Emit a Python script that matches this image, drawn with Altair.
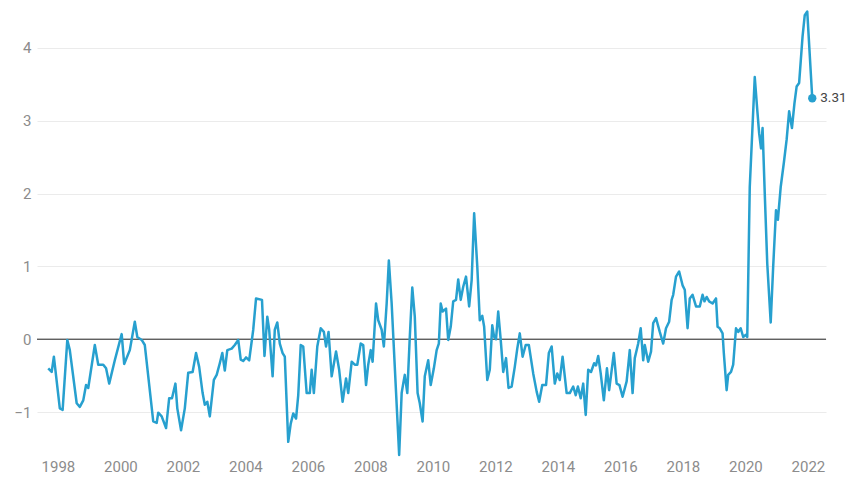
import altair as alt
import pandas as pd

# decimal year of each vertex
years = [
    1997.69, 1997.80, 1997.87, 1998.06, 1998.15, 1998.30, 1998.38, 1998.60, 1998.70, 1998.81,
    1998.90, 1998.97, 1999.18, 1999.29, 1999.45, 1999.54, 1999.64, 1999.82, 2000.04, 2000.12,
    2000.30, 2000.46, 2000.54, 2000.68, 2000.78, 2001.05, 2001.16, 2001.21, 2001.32, 2001.46,
    2001.56, 2001.65, 2001.76, 2001.82, 2001.94, 2002.06, 2002.17, 2002.31, 2002.42, 2002.52,
    2002.63, 2002.70, 2002.78, 2002.86, 2002.99, 2003.08, 2003.18, 2003.26, 2003.34, 2003.42,
    2003.56, 2003.66, 2003.77, 2003.85, 2003.93, 2004.02, 2004.12, 2004.25, 2004.34, 2004.53,
    2004.61, 2004.70, 2004.76, 2004.87, 2004.94, 2005.02, 2005.10, 2005.19, 2005.26, 2005.37,
    2005.45, 2005.53, 2005.62, 2005.69, 2005.77, 2005.85, 2005.96, 2006.06, 2006.12, 2006.19,
    2006.30, 2006.41, 2006.51, 2006.58, 2006.66, 2006.76, 2006.90, 2007.00, 2007.11, 2007.22,
    2007.29, 2007.40, 2007.50, 2007.58, 2007.69, 2007.77, 2007.86, 2007.93, 2008.01, 2008.07,
    2008.18, 2008.25, 2008.36, 2008.43, 2008.52, 2008.59, 2008.68, 2008.78, 2008.92, 2009.00,
    2009.05, 2009.10, 2009.18, 2009.26, 2009.34, 2009.42, 2009.51, 2009.58, 2009.67, 2009.74,
    2009.85, 2009.93, 2010.03, 2010.12, 2010.19, 2010.25, 2010.31, 2010.42, 2010.49, 2010.57,
    2010.65, 2010.74, 2010.81, 2010.89, 2010.97, 2011.06, 2011.16, 2011.24, 2011.32, 2011.42,
    2011.50, 2011.58, 2011.64, 2011.74, 2011.82, 2011.90, 2011.96, 2012.02, 2012.09, 2012.17,
    2012.25, 2012.34, 2012.42, 2012.52, 2012.62, 2012.70, 2012.78, 2012.87, 2012.97, 2013.07,
    2013.21, 2013.32, 2013.40, 2013.50, 2013.62, 2013.71, 2013.80, 2013.90, 2013.98, 2014.06,
    2014.15, 2014.28, 2014.38, 2014.49, 2014.57, 2014.64, 2014.73, 2014.81, 2014.89, 2014.97,
    2015.06, 2015.16, 2015.22, 2015.29, 2015.37, 2015.47, 2015.57, 2015.64, 2015.79, 2015.88,
    2015.97, 2016.07, 2016.20, 2016.30, 2016.39, 2016.46, 2016.57, 2016.65, 2016.73, 2016.78,
    2016.89, 2016.98, 2017.05, 2017.14, 2017.26, 2017.37, 2017.46, 2017.56, 2017.64, 2017.69,
    2017.78, 2017.88, 2017.99, 2018.06, 2018.15, 2018.22, 2018.31, 2018.42, 2018.54, 2018.63,
    2018.69, 2018.76, 2018.84, 2018.95, 2019.06, 2019.11, 2019.18, 2019.27, 2019.31, 2019.40,
    2019.45, 2019.54, 2019.61, 2019.70, 2019.77, 2019.85, 2019.93, 2020.01, 2020.06, 2020.14,
    2020.30, 2020.38, 2020.44, 2020.50, 2020.55, 2020.62, 2020.70, 2020.81, 2020.89, 2020.98,
    2021.04, 2021.13, 2021.23, 2021.32, 2021.40, 2021.49, 2021.57, 2021.64, 2021.72, 2021.83,
    2021.90, 2021.98, 2022.14,
]

values = [
    -0.40, -0.45, -0.24, -0.95, -0.97, -0.01, -0.15, -0.88, -0.93, -0.84,
    -0.63, -0.67, -0.08, -0.35, -0.35, -0.40, -0.61, -0.29, 0.07, -0.34,
    -0.15, 0.24, 0.03, -0.01, -0.08, -1.13, -1.15, -1.01, -1.06, -1.22,
    -0.81, -0.81, -0.61, -0.95, -1.25, -0.95, -0.46, -0.45, -0.19, -0.38,
    -0.74, -0.90, -0.86, -1.06, -0.56, -0.49, -0.33, -0.19, -0.43, -0.15,
    -0.13, -0.08, -0.01, -0.28, -0.30, -0.25, -0.29, 0.13, 0.56, 0.54,
    -0.23, 0.31, 0.13, -0.51, 0.13, 0.23, -0.06, -0.19, -0.24, -1.41,
    -1.16, -1.02, -1.09, -0.77, -0.08, -0.10, -0.74, -0.74, -0.42, -0.74,
    -0.10, 0.15, 0.10, -0.10, 0.10, -0.51, -0.17, -0.42, -0.86, -0.54,
    -0.74, -0.31, -0.35, -0.35, -0.06, -0.08, -0.63, -0.35, -0.15, -0.31,
    0.49, 0.26, 0.13, -0.10, 0.49, 1.08, 0.49, -0.38, -1.59, -0.74,
    -0.61, -0.49, -0.74, 0.03, 0.71, 0.31, -0.74, -0.88, -1.13, -0.51,
    -0.29, -0.63, -0.40, -0.15, -0.06, 0.49, 0.38, 0.42, -0.01, 0.17,
    0.52, 0.54, 0.82, 0.54, 0.72, 0.86, 0.45, 0.81, 1.73, 1.00,
    0.26, 0.32, 0.17, -0.56, -0.42, 0.19, 0.03, 0.00, 0.38, -0.01,
    -0.45, -0.26, -0.67, -0.65, -0.38, -0.13, 0.08, -0.24, -0.08, -0.08,
    -0.47, -0.72, -0.86, -0.63, -0.63, -0.19, -0.10, -0.61, -0.47, -0.56,
    -0.24, -0.74, -0.74, -0.65, -0.77, -0.65, -0.81, -0.61, -1.04, -0.42,
    -0.45, -0.33, -0.36, -0.23, -0.47, -0.84, -0.40, -0.70, -0.19, -0.61,
    -0.63, -0.79, -0.58, -0.15, -0.74, -0.26, -0.06, 0.15, -0.29, -0.08,
    -0.31, -0.17, 0.22, 0.29, 0.10, -0.06, 0.15, 0.24, 0.54, 0.61,
    0.86, 0.93, 0.74, 0.68, 0.15, 0.56, 0.61, 0.45, 0.45, 0.61,
    0.52, 0.58, 0.52, 0.49, 0.56, 0.17, 0.15, 0.08, -0.19, -0.70,
    -0.49, -0.45, -0.35, 0.15, 0.10, 0.15, 0.03, 0.06, 0.03, 2.09,
    3.60, 3.15, 2.83, 2.62, 2.90, 2.00, 1.04, 0.23, 1.00, 1.77,
    1.64, 2.09, 2.42, 2.74, 3.13, 2.90, 3.24, 3.47, 3.52, 4.16,
    4.45, 4.50, 3.31,
]

x_ticks = list(range(1998, 2023, 2))
y_ticks = [-1, 0, 1, 2, 3, 4]
last_label = "3.31"

LINE = "#27a0cf"
FONT = "Roboto"

df = pd.DataFrame({"t": years, "v": values})
last = pd.DataFrame({"t": [years[-1]], "v": [values[-1]], "label": [last_label]})
zero = pd.DataFrame({"z": [0]})

xscale = alt.Scale(domain=[1997.33, 2022.58], nice=False, zero=False)
yscale = alt.Scale(domain=[-1.618, 4.549], nice=False, zero=False)

x_enc = alt.X(
    "t:Q", scale=xscale,
    axis=alt.Axis(values=x_ticks, format="d", grid=False, domain=False, ticks=False,
                  labelPadding=2, labelFontSize=15, labelColor="#8c8c8c", labelFont=FONT,
                  labelOverlap=False, labelFlush=False, title=None),
)
y_enc = alt.Y(
    "v:Q", scale=yscale,
    axis=alt.Axis(values=y_ticks, format="d", grid=True, gridColor="#ebebeb", gridWidth=1,
                  domain=False, ticks=False, labelPadding=6, labelFontSize=15,
                  labelColor="#8c8c8c", labelFont=FONT, title=None),
)

base = alt.Chart(df)

line = base.mark_line(color=LINE, strokeWidth=2.5, strokeJoin="round").encode(x=x_enc, y=y_enc)

rule = alt.Chart(zero).mark_rule(color="#222222", strokeWidth=1).encode(
    y=alt.Y("z:Q", scale=yscale)
)

dot = alt.Chart(last).mark_circle(color=LINE, size=70, opacity=1).encode(
    x=alt.X("t:Q", scale=xscale), y=alt.Y("v:Q", scale=yscale)
)

label = alt.Chart(last).mark_text(
    align="left", baseline="middle", dx=8, fontSize=13.5, font=FONT, color="#444444"
).encode(x=alt.X("t:Q", scale=xscale), y=alt.Y("v:Q", scale=yscale), text="label:N")

chart = (
    alt.layer(rule, line, dot, label)
    .properties(
        width=789, height=449,
        background="white",
        autosize=alt.AutoSizeParams(type="none"),
        padding={"left": 29, "top": 0, "right": 22, "bottom": 19},
    )
    .configure_view(stroke="transparent", strokeWidth=0)
)

chart.save("out.html", embed_options={"renderer": "svg", "actions": False})
